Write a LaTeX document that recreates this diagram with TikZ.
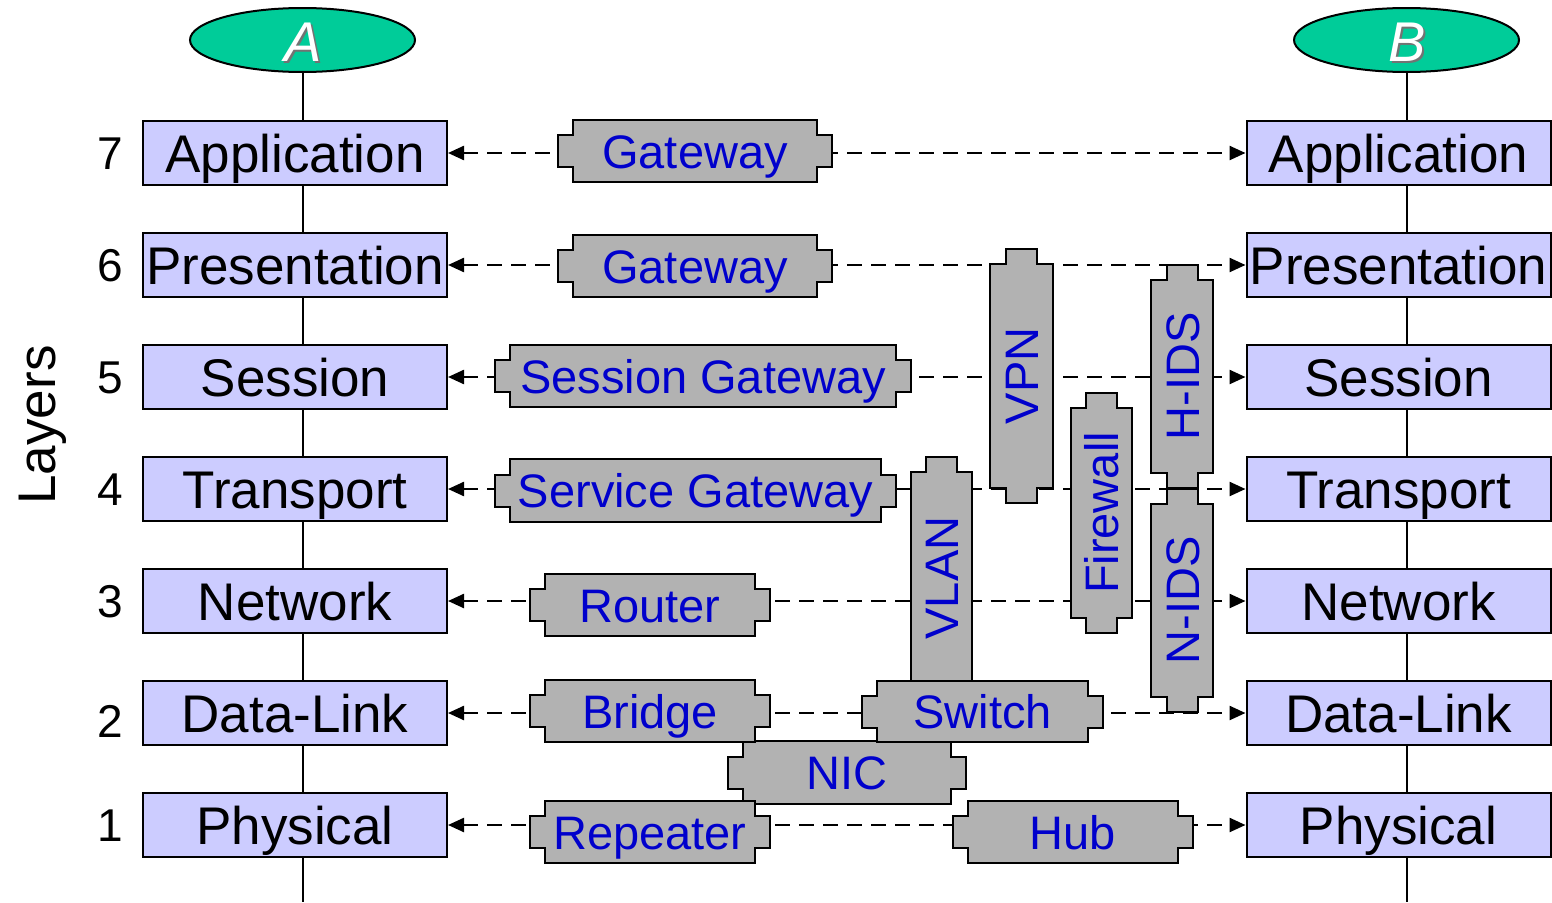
\documentclass[tikz,border=0pt]{standalone}
\usepackage{fontspec}
\setmainfont{Liberation Sans}
\usetikzlibrary{arrows.meta,shapes.geometric}
\definecolor{layerfill}{HTML}{CCCCFF}
\definecolor{devfill}{HTML}{B2B2B2}
\definecolor{devblue}{HTML}{0000CC}
\definecolor{hostgreen}{HTML}{00CC99}

% horizontal device: name, cx, cy, body width, body height, text
\newcommand\hdev[6]{%
\begin{scope}[shift={(#2,#3)}]
\pgfmathsetmacro\dvA{#4/2}\pgfmathsetmacro\dvB{#5/2}\pgfmathsetmacro\dvC{\dvA+15}
\draw[devbody] (-\dvA,-\dvB) -- (\dvA,-\dvB) -- (\dvA,-16) -- (\dvC,-16) -- (\dvC,16) -- (\dvA,16) -- (\dvA,\dvB) -- (-\dvA,\dvB) -- (-\dvA,16) -- (-\dvC,16) -- (-\dvC,-16) -- (-\dvA,-16) -- cycle;
\node[devtext] (#1) at (0,0) {#6};
\end{scope}}
% vertical device: name, cx, cy, body width, body height, text
\newcommand\vdev[6]{%
\begin{scope}[shift={(#2,#3)}]
\pgfmathsetmacro\dvA{#4/2}\pgfmathsetmacro\dvB{#5/2}\pgfmathsetmacro\dvC{\dvB+15}
\draw[devbody] (-\dvA,-\dvB) -- (-15.5,-\dvB) -- (-15.5,-\dvC) -- (15.5,-\dvC) -- (15.5,-\dvB) -- (\dvA,-\dvB) -- (\dvA,\dvB) -- (15.5,\dvB) -- (15.5,\dvC) -- (-15.5,\dvC) -- (-15.5,\dvB) -- (-\dvA,\dvB) -- cycle;
\node[devtext,rotate=90] (#1) at (0,0) {#6};
\end{scope}}

\tikzset{
  layer/.style={draw=black, line width=2pt, fill=layerfill, minimum width=304pt, minimum height=64pt,
    inner sep=0pt, text height=39pt, text depth=0pt, font=\fontsize{53}{60}\selectfont},
  devbody/.style={draw=black, line width=2pt, fill=devfill, line join=miter},
  devtext/.style={text=devblue, inner sep=0pt, text height=34pt, text depth=0pt, font=\fontsize{47}{56}\selectfont},
  numlab/.style={inner sep=0pt, text height=33pt, text depth=0pt, font=\fontsize{46}{52}\selectfont},
  conn/.style={dash pattern=on 15pt off 9pt, line width=2.4pt,
    {Triangle[length=16pt,width=14pt]}-{Triangle[length=16pt,width=14pt]}},
  vline/.style={line width=2pt},
  host/.style={ellipse, draw=black, line width=2pt, fill=hostgreen, minimum width=225pt, minimum height=64pt, inner sep=0pt},
  hostlab/.style={inner sep=0pt, text height=41pt, text depth=0pt, font=\fontsize{56}{60}\selectfont\itshape}
}

\begin{document}
\begin{tikzpicture}[x=1pt,y=-1pt]
\useasboundingbox (0,0) rectangle (1552,902);

% hosts
\node[host] (A) at (302.5,40) {};
\node[host] (B) at (1406.5,40) {};
\node[hostlab,text=black!55] (As) at (305,42.5) {A};
\node[hostlab,text=white] (Al) at (303,40.5) {A};
\node[hostlab,text=black!55] (Bs) at (1409,42.5) {B};
\node[hostlab,text=white] (Bl) at (1407,40.5) {B};
\coordinate (Abot) at (302.5,902);
\coordinate (Bbot) at (1406.5,902);
\draw[vline] (A.south) -- (Abot);
\draw[vline] (B.south) -- (Bbot);

% axis label
\node[inner sep=0pt, text height=38pt, text depth=0pt, font=\fontsize{53}{60}\selectfont, rotate=90] (layers) at (36,425) {Layers};

% layers and connectors
\foreach \n/\t/\y/\ny in {7/Application/153/153, 6/Presentation/265/265, 5/Session/377/377,
  4/Transport/489/489, 3/Network/601/601, 2/Data-Link/713/721, 1/Physical/825/825} {
  \node[layer] (L\n) at (295,\y) {\t};
  \node[layer] (R\n) at (1398.5,\y) {\t};
  \node[numlab] (N\n) at (110,\ny) {\n};
  \draw[conn] (L\n.east) -- (R\n.west);
}

% devices
\vdev{vlan}{941.5}{578}{61}{212}{VLAN}
\hdev{nic}{847}{772.5}{208}{63}{NIC}
\hdev{bridge}{650}{711}{210}{62}{Bridge}
\hdev{repeater}{650}{832}{210}{62}{Repeater}
\hdev{switch}{982.5}{711.5}{211}{61}{Switch}
\hdev{router}{650}{605}{210}{62}{Router}
\hdev{hub}{1073}{832}{210}{62}{Hub}
\hdev{gw7}{695}{151}{244}{62}{Gateway}
\hdev{gw6}{695}{266}{244}{62}{Gateway}
\hdev{sessgw}{703}{376}{386}{62}{Session Gateway}
\hdev{servgw}{695.5}{490.5}{371}{63}{Service Gateway}
\vdev{vpn}{1021.5}{376}{63}{224}{VPN}
\vdev{firewall}{1101.5}{513}{61}{210}{Firewall}
\vdev{hids}{1182}{376.5}{62}{193}{H-IDS}
\vdev{nids}{1182}{600.5}{62}{193}{N-IDS}
\end{tikzpicture}
\end{document}
